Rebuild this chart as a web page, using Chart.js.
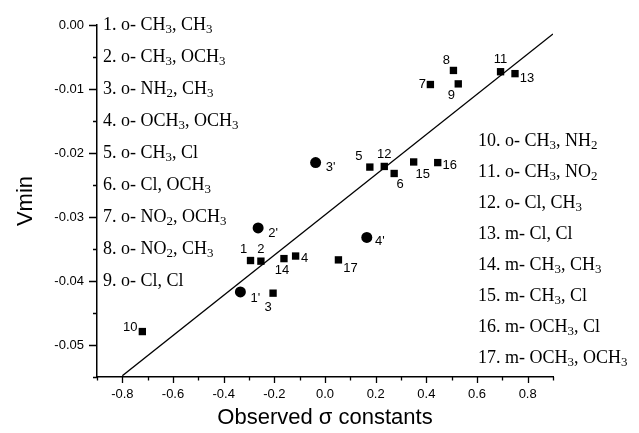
<!DOCTYPE html>
<html>
<head>
<meta charset="utf-8">
<script src="https://cdn.jsdelivr.net/npm/chart.js@4"></script>
<style>
  html, body { margin: 0; padding: 0; background: #fff; }
</style>
</head>
<body>
<canvas id="chart" width="639" height="433"></canvas>
<script>
// substituent pairs, numbered 1..17
const substituents = [
  'o- CH3, CH3', 'o- CH3, OCH3', 'o- NH2, CH3', 'o- OCH3, OCH3', 'o- CH3, Cl',
  'o- Cl, OCH3', 'o- NO2, OCH3', 'o- NO2, CH3', 'o- Cl, Cl', 'o- CH3, NH2',
  'o- CH3, NO2', 'o- Cl, CH3', 'm- Cl, Cl', 'm- CH3, CH3', 'm- CH3, Cl',
  'm- OCH3, Cl', 'm- OCH3, OCH3'
];
const sigmaObs = [-0.294, -0.253, -0.205, -0.116, 0.177, 0.273, 0.416, 0.507, 0.526,
  -0.721, 0.693, 0.234, 0.750, -0.162, 0.350, 0.445, 0.053];
const vmin = [-0.0368, -0.0369, -0.0419, -0.0361, -0.0222, -0.0232, -0.0093, -0.0071, -0.0092,
  -0.0479, -0.0073, -0.0221, -0.0076, -0.0365, -0.0214, -0.0215, -0.0367];

const primeLabels = ["1'", "2'", "3'", "4'"];
const primeSigma = [-0.334, -0.264, -0.037, 0.165];
const primeVmin = [-0.0417, -0.0317, -0.0215, -0.0332];

// fitted line end points
const fitX = [-0.8, 0.9];
const fitY = [-0.0548, -0.0014];

// label placement (px offset from the marker)
const labelOffsets = [[-7, -11], [0, -12], [-5, 14], [9, 2], [-11, -11], [6, 11], [-8, 0], [-7, -10], [-7, 12],
  [-12, -4], [0, -12], [0, -12], [12, 5], [-2, 12], [9, 12], [12, 3], [12, 9]];
const primeOffsets = [[15, 7], [15, 6], [15, 5], [13, 4]];

const noteLines = substituents.map((s, i) => `${i + 1}. ${s}`);

// draw text with digits after a letter as subscripts
function drawChem(ctx, text, x, y, size) {
  let cx = x;
  for (let i = 0; i < text.length; i++) {
    const ch = text[i];
    const sub = /[0-9]/.test(ch) && i > 0 && /[A-Za-z]/.test(text[i - 1]);
    ctx.font = (sub ? size * 0.72 : size) + 'px "Liberation Serif", "Times New Roman", serif';
    ctx.fillText(ch, cx, sub ? y + size * 0.28 : y);
    cx += ctx.measureText(ch).width;
  }
}

const annotations = {
  id: 'annotations',
  afterDraw(chart) {
    const ctx = chart.ctx;
    const xs = chart.scales.x, ys = chart.scales.y;
    ctx.save();
    ctx.strokeStyle = '#000';
    ctx.fillStyle = '#000';
    ctx.lineWidth = 1.3;

    // tick marks, major longer than minor
    ctx.beginPath();
    xs.ticks.forEach(t => {
      const px = Math.round(xs.getPixelForValue(t.value)) + 0.5;
      const major = Math.round(t.value * 10) % 2 === 0;
      ctx.moveTo(px, xs.top);
      ctx.lineTo(px, xs.top + (major ? 6 : 3.5));
    });
    ys.ticks.forEach(t => {
      const py = Math.round(ys.getPixelForValue(t.value)) + 0.5;
      const major = Math.round(t.value * 1000) % 10 === 0;
      ctx.moveTo(ys.right, py);
      ctx.lineTo(ys.right - (major ? 8 : 4), py);
    });
    ctx.stroke();

    // point numbers
    ctx.font = '13px "Liberation Sans", Arial, sans-serif';
    ctx.textAlign = 'center';
    ctx.textBaseline = 'middle';
    chart.getDatasetMeta(1).data.forEach((el, i) => {
      ctx.fillText(String(i + 1), el.x + labelOffsets[i][0], el.y + labelOffsets[i][1]);
    });
    chart.getDatasetMeta(2).data.forEach((el, i) => {
      ctx.fillText(primeLabels[i], el.x + primeOffsets[i][0], el.y + primeOffsets[i][1]);
    });

    // substituent notes
    ctx.textAlign = 'left';
    noteLines.forEach((line, i) => {
      if (i < 9) drawChem(ctx, line, 103, 25 + 32 * i, 18);
      else drawChem(ctx, line, 478, 141 + 31 * (i - 9), 18);
    });
    ctx.restore();
  }
};

new Chart(document.getElementById('chart').getContext('2d'), {
  type: 'scatter',
  data: {
    datasets: [
      {
        type: 'line',
        data: fitX.map((x, i) => ({ x: x, y: fitY[i] })),
        borderColor: '#000',
        borderWidth: 1.4,
        pointRadius: 0,
        fill: false,
      },
      {
        data: sigmaObs.map((x, i) => ({ x: x, y: vmin[i] })),
        pointStyle: 'rect',
        pointRadius: 5.2,
        backgroundColor: '#000',
        borderColor: '#000',
        borderWidth: 0,
      },
      {
        data: primeSigma.map((x, i) => ({ x: x, y: primeVmin[i] })),
        pointStyle: 'circle',
        pointRadius: 5.5,
        backgroundColor: '#000',
        borderColor: '#000',
        borderWidth: 0,
      },
    ],
  },
  options: {
    responsive: false,
    animation: false,
    layout: { padding: { top: 25, right: 86, left: 0, bottom: 0 } },
    plugins: { legend: { display: false }, tooltip: { enabled: false } },
    scales: {
      x: {
        type: 'linear',
        min: -0.9,
        max: 0.9,
        afterFit: s => { s.height = 56; },
        grid: { display: true, drawOnChartArea: false, tickLength: 6, tickColor: 'rgba(0,0,0,0)' },
        border: { color: '#000', width: 1.5 },
        ticks: {
          stepSize: 0.1,
          autoSkip: false,
          maxRotation: 0,
          padding: 4,
          color: '#000',
          font: { family: '"Liberation Sans", Arial, sans-serif', size: 13 },
          callback: v => {
            const n = Math.round(v * 10);
            return (n % 2 === 0 && Math.abs(n) < 9) ? (n / 10).toFixed(1) : '';
          }
        },
        title: {
          display: true,
          text: 'Observed σ constants',
          color: '#000',
          padding: { top: 0, bottom: 2 },
          font: { family: '"Liberation Sans", Arial, sans-serif', size: 22 }
        }
      },
      y: {
        type: 'linear',
        min: -0.055,
        max: 0,
        afterFit: s => { s.width = 97; },
        grid: { display: true, drawOnChartArea: false, tickLength: 8, tickColor: 'rgba(0,0,0,0)' },
        border: { color: '#000', width: 1.5 },
        ticks: {
          stepSize: 0.005,
          autoSkip: false,
          padding: 5,
          color: '#000',
          font: { family: '"Liberation Sans", Arial, sans-serif', size: 13 },
          callback: v => {
            const n = Math.round(v * 1000);
            return n % 10 === 0 ? (n === 0 ? '0.00' : (n / 1000).toFixed(2)) : '';
          }
        },
        title: {
          display: true,
          text: 'Vmin',
          color: '#000',
          padding: { top: 13, bottom: 0 },
          font: { family: '"Liberation Sans", Arial, sans-serif', size: 22 }
        }
      }
    }
  },
  plugins: [annotations]
});
</script>
</body>
</html>
